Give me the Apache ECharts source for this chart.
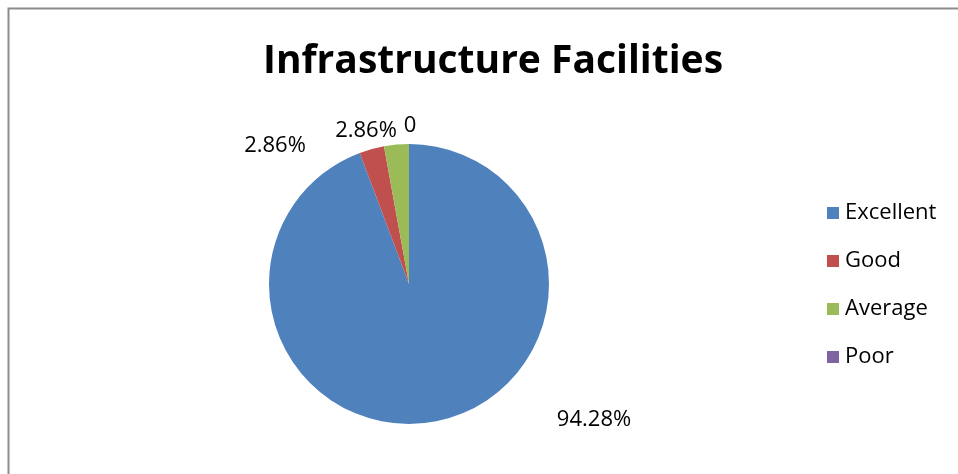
<!DOCTYPE html>
<html><head><meta charset="utf-8">
<script src="https://cdn.jsdelivr.net/npm/echarts@6/dist/echarts.min.js"></script>
<style>html,body{margin:0;padding:0;background:#fff}#c{width:958px;height:474px}</style>
</head><body><div id="c"></div>
<script>
const categories = ['Excellent', 'Good', 'Average', 'Poor'];
const values = [94.28, 2.86, 2.86, 0];
const colors = ['#4F81BD', '#C0504D', '#9BBB59', '#8064A2'];
const labelSpots = [[594, 420], [275, 146], [366, 131], [410, 126]];

const chart = echarts.init(document.getElementById('c'));
chart.setOption({
  animation: false,
  color: colors,
  title: {
    text: 'Infrastructure Facilities',
    left: 488, top: 37, textAlign: 'center',
    textStyle: { fontFamily: 'Open Sans', fontWeight: 'bold', fontSize: 39, color: '#000' }
  },
  legend: {
    orient: 'vertical', left: 822, top: 197,
    itemWidth: 12, itemHeight: 12, itemGap: 26, icon: 'rect',
    textStyle: { fontFamily: 'Open Sans', fontSize: 22, color: '#000', padding: [0, 0, 0, 1] },
    data: categories
  },
  graphic: [{
    type: 'rect', shape: { x: 8.5, y: 8.5, width: 1000, height: 1000 },
    style: { fill: 'none', stroke: '#8c8c8c', lineWidth: 2 }, silent: true
  }],
  series: [{
    type: 'pie', center: [409, 284], radius: 140, startAngle: 90, clockwise: true,
    itemStyle: { borderWidth: 0 },
    label: {
      show: true, position: 'outside', color: '#000', fontFamily: 'Open Sans', fontSize: 22,
      formatter: p => p.value === 0 ? '0' : p.value.toFixed(2) + '%'
    },
    labelLine: { show: false },
    labelLayout: p => ({ x: labelSpots[p.dataIndex][0], y: labelSpots[p.dataIndex][1], align: 'center', verticalAlign: 'middle' }),
    data: categories.map((c, i) => ({ name: c, value: values[i] }))
  }]
});
</script></body></html>
